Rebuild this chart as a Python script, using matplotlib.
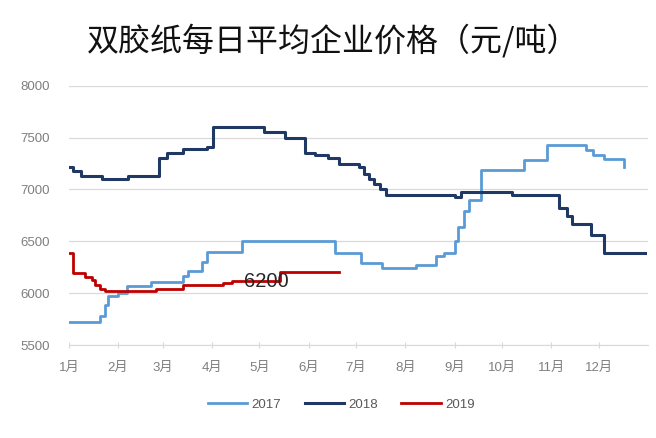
import matplotlib
matplotlib.use("Agg")
import matplotlib.pyplot as plt

plt.rcParams['font.family'] = ['Liberation Sans', 'Noto Sans CJK SC', 'DejaVu Sans']

# step points: day of year -> price (yuan/ton)
days_2017 = [0, 19.5, 22.7, 24.5, 31, 36.5, 52, 72, 75, 84, 87, 109, 168, 184, 197,
             219, 231.6, 236.6, 243, 245, 249, 252, 260, 287, 301.5, 326, 330, 337, 350]
vals_2017 = [5725, 5775, 5890, 5970, 6000, 6070, 6110, 6170, 6215, 6305, 6400, 6500, 6390, 6290, 6240,
             6275, 6360, 6385, 6500, 6640, 6790, 6900, 7190, 7285, 7430, 7380, 7330, 7290, 7220]

days_2018 = [0, 2.5, 7.5, 21, 37, 57, 62, 72, 87, 91, 123, 136, 148.5, 155, 163, 170.5, 183,
             186, 189, 192, 196, 200, 243, 247, 279, 309, 314, 317, 329, 337, 363]
vals_2018 = [7220, 7180, 7130, 7100, 7130, 7300, 7350, 7390, 7410, 7600, 7550, 7500, 7350, 7330, 7300, 7250, 7220,
             7150, 7100, 7050, 7000, 6950, 6930, 6975, 6950, 6825, 6740, 6665, 6560, 6385, 6385]

days_2019 = [0, 2.5, 10, 14.5, 16.4, 19.5, 22.6, 55, 71.6, 97, 103, 132.8, 170.5]
vals_2019 = [6385, 6190, 6160, 6130, 6080, 6040, 6025, 6040, 6080, 6100, 6120, 6200, 6200]

month_starts = [0, 31, 59, 90, 120, 151, 181, 212, 243, 273, 304, 334]
month_labels = ['1月', '2月', '3月', '4月', '5月', '6月', '7月', '8月', '9月', '10月', '11月', '12月']

fig = plt.figure(figsize=(6.56, 4.38), dpi=100)
ax = fig.add_axes([0.105, 0.2123, 0.883, 0.592])

ax.step(days_2017, vals_2017, where='post', color='#5B9BD5', lw=2.0, label='2017')
ax.step(days_2018, vals_2018, where='post', color='#1F3864', lw=2.2, label='2018')
ax.step(days_2019, vals_2019, where='post', color='#C00000', lw=2.0, label='2019')

ax.text(124.6, 6110, '6200', ha='center', va='center', fontsize=14.5, color='#262626')

ax.set_xlim(0, 365)
ax.set_ylim(5500, 8000)
ax.set_yticks([5500, 6000, 6500, 7000, 7500, 8000])
ax.set_xticks(month_starts)
ax.set_xticklabels(month_labels)
ax.grid(axis='y', color='#d9d9d9', lw=0.9)
ax.set_axisbelow(True)
for s in ['top', 'right', 'left']:
    ax.spines[s].set_visible(False)
ax.spines['bottom'].set_color('#d9d9d9')
ax.tick_params(axis='y', length=0, labelsize=9.5, labelcolor='#7f7f7f', pad=14)
ax.tick_params(axis='x', direction='inout', length=5, color='#d9d9d9', labelsize=9.5,
               labelcolor='#7f7f7f', pad=10)

fig.suptitle('双胶纸每日平均企业价格（元/吨）', x=0.508, y=0.945, fontsize=23,
             family=['Noto Sans CJK SC'], weight='medium', color='#111111')

ax.legend(loc='upper center', bbox_to_anchor=(0.47, -0.16), ncol=3, frameon=False,
          fontsize=9.5, handlelength=3.0, handletextpad=0.3, columnspacing=1.8,
          labelcolor='#595959')

fig.savefig('out.png', dpi=100)
